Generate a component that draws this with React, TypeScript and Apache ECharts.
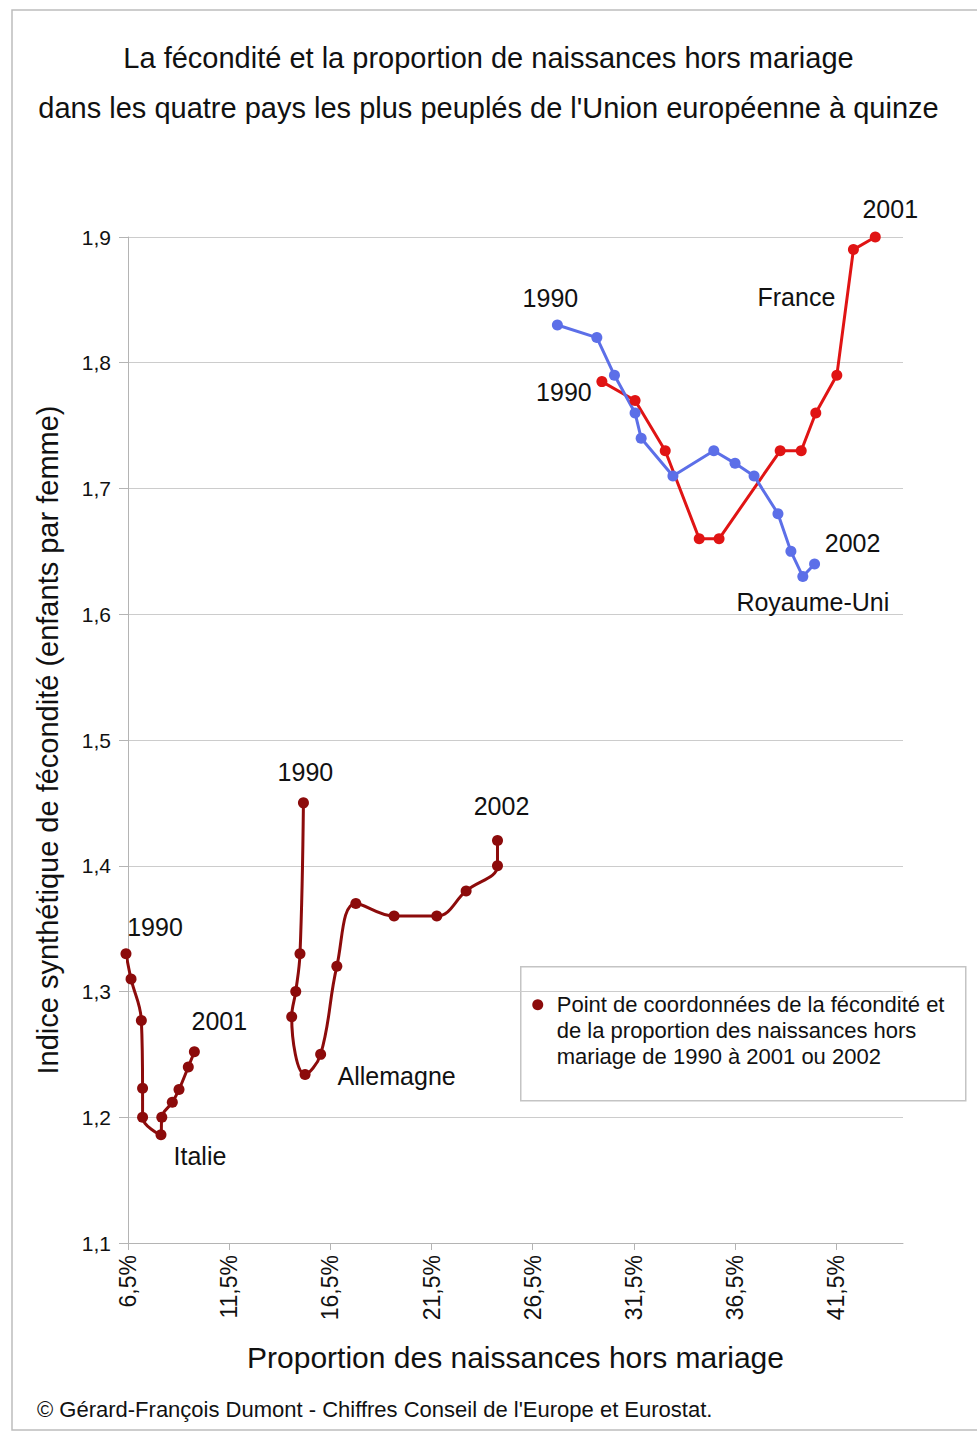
import React, { useEffect, useRef } from "react";
import * as echarts from "echarts";

// ---- Data ----
const xTickValues = [6.5, 11.5, 16.5, 21.5, 26.5, 31.5, 36.5, 41.5];

const franceX = [29.92, 31.56, 33.05, 34.73, 35.71, 38.73, 39.77, 40.49, 41.53, 42.35, 43.43];
const franceY = [1.785, 1.77, 1.73, 1.66, 1.66, 1.73, 1.73, 1.76, 1.79, 1.89, 1.9];

const ukX = [27.72, 29.67, 30.54, 31.56, 31.86, 33.43, 35.45, 36.5, 37.44, 38.62, 39.26, 39.85, 40.43];
const ukY = [1.83, 1.82, 1.79, 1.76, 1.74, 1.71, 1.73, 1.72, 1.71, 1.68, 1.65, 1.63, 1.64];

const germanyX = [15.17, 15.0, 14.79, 14.59, 15.25, 16.02, 16.82, 17.76, 19.65, 21.76, 23.21, 24.76, 24.76];
const germanyY = [1.45, 1.33, 1.3, 1.28, 1.234, 1.25, 1.32, 1.37, 1.36, 1.36, 1.38, 1.4, 1.42];

const italyX = [6.4, 6.65, 7.16, 7.22, 7.22, 8.13, 8.17, 8.69, 9.02, 9.48, 9.78];
const italyY = [1.33, 1.31, 1.277, 1.223, 1.2, 1.186, 1.2, 1.212, 1.222, 1.24, 1.252];

// annotation texts attached to data points (index in series)
const franceNotes = [
  { index: 0, text: "1990" },
  { index: 9, text: "France" },
  { index: 10, text: "2001" },
];
const ukNotes = [
  { index: 0, text: "1990" },
  { index: 11, text: "Royaume-Uni" },
  { index: 12, text: "2002" },
];
const germanyNotes = [
  { index: 0, text: "1990" },
  { index: 5, text: "Allemagne" },
  { index: 12, text: "2002" },
];
const italyNotes = [
  { index: 0, text: "1990" },
  { index: 5, text: "Italie" },
  { index: 10, text: "2001" },
];

// ---- Layout / style (not data) ----
const noteOffsets: Record<string, Record<number, [number, number]>> = {
  France: { 0: [-38, 10], 9: [-57, 47], 10: [15, -28] },
  UK: { 0: [-7, -27], 11: [10, 25], 12: [38, -21] },
  Germany: { 0: [2, -31], 5: [76, 22], 12: [4, -35] },
  Italy: { 0: [29, -27], 5: [39, 21], 10: [25, -31] },
};

const FONT = "'Liberation Sans', Arial, sans-serif";
const TEXT = "#111111";
const RED = "#e01414";
const BLUE = "#5c6fe8";
const DARK = "#8c0b0b";

function buildData(
  key: string,
  xs: number[],
  ys: number[],
  notes: { index: number; text: string }[]
) {
  return xs.map((x, i) => {
    const note = notes.find((n) => n.index === i);
    const item: any = { value: [x, ys[i]] };
    if (note) {
      item.label = {
        show: true,
        formatter: note.text,
        position: "inside",
        align: "center",
        verticalAlign: "middle",
        offset: noteOffsets[key][i],
        fontSize: 25,
        fontFamily: FONT,
        color: TEXT,
      };
    }
    return item;
  });
}

function lineSeries(name: string, color: string, data: any[], smooth: number | boolean) {
  return {
    name,
    type: "line",
    data,
    smooth,
    clip: false,
    symbol: "circle",
    symbolSize: 11,
    itemStyle: { color },
    lineStyle: { color, width: 3 },
    label: { show: false },
    emphasis: { disabled: true },
  };
}

export default function App() {
  const ref = useRef<HTMLDivElement>(null);

  useEffect(() => {
    if (!ref.current) return;
    const chart = echarts.init(ref.current, undefined, { renderer: "svg" });
    const fmt = (v: number) => v.toFixed(1).replace(".", ",");

    chart.setOption({
      animation: false,
      backgroundColor: "#ffffff",
      title: {
        text:
          "La fécondité et la proportion de naissances hors mariage\ndans les quatre pays les plus peuplés de l'Union européenne à quinze",
        left: "center",
        top: 28,
        textStyle: {
          fontFamily: FONT,
          fontSize: 29,
          fontWeight: "normal",
          color: TEXT,
          lineHeight: 50,
        },
      },
      grid: {
        left: 128,
        right: 74,
        top: 237,
        bottom: 192,
        containLabel: false,
        outerBoundsMode: "none",
      },
      xAxis: {
        type: "value",
        min: 6.5,
        max: 44.8,
        name: "Proportion des naissances hors mariage",
        nameLocation: "middle",
        nameGap: 99,
        nameTextStyle: { fontFamily: FONT, fontSize: 30, color: TEXT },
        axisLine: { show: true, lineStyle: { color: "#b4b4b4", width: 1 } },
        axisTick: {
          show: true,
          customValues: xTickValues,
          length: 7,
          lineStyle: { color: "#b4b4b4" },
        },
        axisLabel: {
          customValues: xTickValues,
          rotate: 90,
          margin: 12,
          fontFamily: FONT,
          fontSize: 23,
          color: TEXT,
          formatter: (v: number) => fmt(v) + "%",
        },
        splitLine: { show: false },
      },
      yAxis: {
        type: "value",
        min: 1.1,
        max: 1.9,
        interval: 0.1,
        name: "Indice synthétique de fécondité (enfants par femme)",
        nameLocation: "middle",
        nameGap: 66,
        nameTextStyle: { fontFamily: FONT, fontSize: 29, color: TEXT },
        axisLine: { show: true, lineStyle: { color: "#b4b4b4", width: 1 } },
        axisTick: { show: true, length: 9, lineStyle: { color: "#b4b4b4" } },
        axisLabel: {
          margin: 17,
          fontFamily: FONT,
          fontSize: 21,
          color: TEXT,
          formatter: (v: number) => fmt(v),
        },
        splitLine: { show: true, lineStyle: { color: "#cccccc", width: 1 } },
      },
      series: [
        lineSeries("France", RED, buildData("France", franceX, franceY, franceNotes), false),
        lineSeries("Royaume-Uni", BLUE, buildData("UK", ukX, ukY, ukNotes), false),
        lineSeries("Allemagne", DARK, buildData("Germany", germanyX, germanyY, germanyNotes), 0.4),
        lineSeries("Italie", DARK, buildData("Italy", italyX, italyY, italyNotes), 0.4),
      ],
      graphic: [
        {
          type: "rect",
          silent: true,
          z: -10,
          shape: { x: 12, y: 10, width: 990, height: 1420 },
          style: { fill: "none", stroke: "#bdbdbd", lineWidth: 1.5 },
        },
        {
          type: "group",
          left: 520,
          top: 966,
          children: [
            {
              type: "rect",
              shape: { x: 0, y: 0, width: 445, height: 134 },
              style: { fill: "#ffffff", stroke: "#c4c4c4", lineWidth: 1.5 },
            },
            {
              type: "circle",
              shape: { cx: 17, cy: 38, r: 5.5 },
              style: { fill: DARK },
            },
            {
              type: "text",
              x: 36,
              y: 25,
              style: {
                text:
                  "Point de coordonnées de la fécondité et\nde la proportion des naissances hors\nmariage de 1990 à 2001 ou 2002",
                fontFamily: FONT,
                fontSize: 22,
                lineHeight: 26,
                fill: TEXT,
              },
            },
          ],
        },
        {
          type: "text",
          left: 37,
          top: 1398,
          style: {
            text: "© Gérard-François Dumont - Chiffres Conseil de l'Europe et Eurostat.",
            fontFamily: FONT,
            fontSize: 22,
            fill: TEXT,
          },
        },
      ],
    });

    return () => chart.dispose();
  }, []);

  return (
    <div
      ref={ref}
      style={{ position: "absolute", left: 0, top: 0, width: 977, height: 1435 }}
    />
  );
}
